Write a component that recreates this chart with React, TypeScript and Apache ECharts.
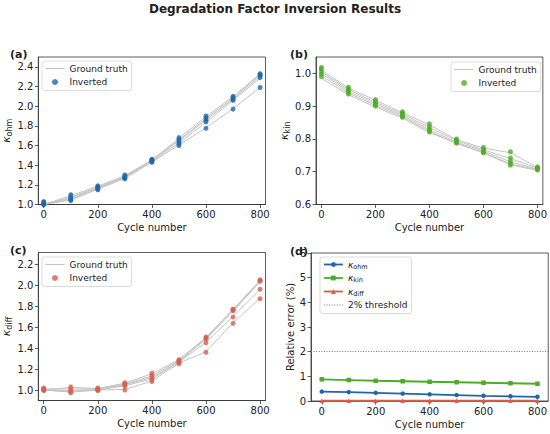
import { useEffect, useRef } from 'react';
import * as echarts from 'echarts';

const CYCLES = [0, 100, 200, 300, 400, 500, 600, 700, 800];
const X_TICKS = [0, 200, 400, 600, 800];

const GT_OHM = [
  [1.0, 1.045, 1.155, 1.265, 1.43, 1.605, 1.78, 1.975, 2.19],
  [1.0, 1.055, 1.16, 1.275, 1.44, 1.625, 1.835, 2.06, 2.285],
  [1.0, 1.065, 1.17, 1.28, 1.45, 1.645, 1.86, 2.07, 2.305],
  [1.0, 1.075, 1.175, 1.285, 1.455, 1.655, 1.875, 2.085, 2.32],
  [1.0, 1.09, 1.185, 1.295, 1.45, 1.675, 1.895, 2.095, 2.33],
];
const INV_OHM = [
  [1.0, 1.04, 1.15, 1.26, 1.43, 1.6, 1.775, 1.97, 2.19],
  [1.01, 1.05, 1.16, 1.27, 1.44, 1.62, 1.84, 2.06, 2.29],
  [1.02, 1.06, 1.17, 1.28, 1.45, 1.64, 1.86, 2.07, 2.31],
  [1.03, 1.08, 1.18, 1.29, 1.46, 1.66, 1.88, 2.09, 2.32],
  [1.0, 1.1, 1.19, 1.3, 1.45, 1.68, 1.9, 2.1, 2.33],
];
const GT_KIN = [
  [1.01, 0.955, 0.918, 0.88, 0.843, 0.798, 0.772, 0.758, 0.713],
  [1.005, 0.95, 0.912, 0.876, 0.835, 0.795, 0.767, 0.74, 0.711],
  [1.0, 0.945, 0.907, 0.872, 0.828, 0.79, 0.763, 0.73, 0.708],
  [0.993, 0.94, 0.902, 0.868, 0.823, 0.786, 0.759, 0.724, 0.706],
  [0.985, 0.935, 0.897, 0.864, 0.819, 0.788, 0.757, 0.721, 0.704],
];
const INV_KIN = [
  [1.018, 0.958, 0.92, 0.883, 0.846, 0.8, 0.774, 0.761, 0.715],
  [1.013, 0.953, 0.915, 0.879, 0.838, 0.797, 0.769, 0.742, 0.712],
  [1.005, 0.948, 0.91, 0.874, 0.83, 0.792, 0.764, 0.732, 0.709],
  [0.998, 0.943, 0.905, 0.869, 0.825, 0.787, 0.76, 0.725, 0.707],
  [0.99, 0.937, 0.9, 0.866, 0.821, 0.79, 0.758, 0.72, 0.705],
];
const GT_DIFF = [
  [1.0, 0.98, 1.0, 1.005, 1.085, 1.255, 1.365, 1.64, 1.875],
  [1.0, 0.985, 1.0, 1.04, 1.105, 1.265, 1.455, 1.7, 1.96],
  [1.0, 0.995, 1.005, 1.05, 1.12, 1.27, 1.485, 1.75, 2.03],
  [1.01, 1.01, 1.01, 1.055, 1.135, 1.28, 1.495, 1.76, 2.04],
  [1.0, 1.025, 1.015, 1.065, 1.155, 1.29, 1.5, 1.77, 2.045],
];
const INV_DIFF = [
  [1.0, 0.975, 0.995, 1.0, 1.08, 1.25, 1.36, 1.635, 1.87],
  [1.005, 0.98, 1.0, 1.04, 1.1, 1.265, 1.45, 1.695, 1.96],
  [1.01, 0.99, 1.005, 1.05, 1.12, 1.27, 1.49, 1.755, 2.035],
  [1.02, 1.01, 1.01, 1.06, 1.14, 1.28, 1.495, 1.765, 2.045],
  [0.995, 1.03, 1.02, 1.07, 1.16, 1.29, 1.505, 1.77, 2.05],
];
const ERR_OHM = [0.38, 0.36, 0.33, 0.3, 0.27, 0.24, 0.21, 0.19, 0.17];
const ERR_KIN = [0.88, 0.85, 0.82, 0.8, 0.78, 0.76, 0.74, 0.72, 0.7];
const ERR_DIFF = [0.01, 0.01, 0.01, 0.01, 0.01, 0.01, 0.01, 0.01, 0.01];
const THRESHOLD = 2;

const Y_TICKS_A = [1.0, 1.2, 1.4, 1.6, 1.8, 2.0, 2.2, 2.4];
const Y_TICKS_B = [0.6, 0.7, 0.8, 0.9, 1.0];
const Y_TICKS_C = [1.0, 1.2, 1.4, 1.6, 1.8, 2.0, 2.2];
const Y_TICKS_D = [0, 1, 2, 3, 4, 5, 6];

const BLUE = '#2166ac';
const GREEN = '#4dac26';
const RED = '#d6604d';
const GT_COLOR = '#c4c4c4';
const AX = '#333333';
const TEXT = '#222222';
const FONT = 'DejaVu Sans';

const kRichAxis = {
  k: { fontSize: 11, fontStyle: 'italic', lineHeight: 14, verticalAlign: 'middle', color: TEXT, fontFamily: FONT },
  s: { fontSize: 8, lineHeight: 8, verticalAlign: 'bottom', color: TEXT, fontFamily: FONT },
};
const kRichLegend = {
  k: { fontSize: 9, fontStyle: 'italic', lineHeight: 11, color: TEXT, fontFamily: FONT },
  s: { fontSize: 6.5, lineHeight: 7, verticalAlign: 'bottom', color: TEXT, fontFamily: FONT },
};

function xAxisFor(gridIndex: number, min: number, max: number) {
  return {
    type: 'value', gridIndex, min, max,
    axisLine: { show: true, onZero: false, lineStyle: { color: AX, width: 0.8 } },
    axisTick: { show: true, length: 3.5, lineStyle: { color: AX, width: 0.8 }, customValues: X_TICKS },
    axisLabel: { color: TEXT, fontSize: 10, margin: 5, fontFamily: FONT, customValues: X_TICKS, formatter: (v: number) => String(v) },
    splitLine: { show: false },
    name: 'Cycle number', nameLocation: 'middle', nameGap: 18,
    nameTextStyle: { fontSize: 10, color: TEXT, fontFamily: FONT },
  };
}

function yAxisFor(gridIndex: number, min: number, max: number, ticks: number[], name: string, nameGap: number, digits: number) {
  return {
    type: 'value', gridIndex, min, max,
    axisLine: { show: true, onZero: false, lineStyle: { color: AX, width: 0.8 } },
    axisTick: { show: true, length: 3.5, lineStyle: { color: AX, width: 0.8 }, customValues: ticks },
    axisLabel: { color: TEXT, fontSize: 10, margin: 5, fontFamily: FONT, customValues: ticks, formatter: (v: number) => v.toFixed(digits) },
    splitLine: { show: false },
    name, nameLocation: 'middle', nameGap, nameRotate: 90,
    nameTextStyle: { fontSize: 10, color: TEXT, fontFamily: FONT, rich: kRichAxis },
  };
}

function gtSeries(runs: number[][], idx: number) {
  return runs.map((run) => ({
    type: 'line', name: 'Ground truth', xAxisIndex: idx, yAxisIndex: idx,
    data: CYCLES.map((c, i) => [c, run[i]]),
    symbol: 'none', silent: true, z: 2,
    lineStyle: { color: GT_COLOR, width: 1 }, itemStyle: { color: GT_COLOR },
  }));
}

function invSeries(runs: number[][], idx: number, color: string) {
  const data: number[][] = [];
  runs.forEach((run) => CYCLES.forEach((c, i) => data.push([c, run[i]])));
  return {
    type: 'scatter', name: 'Inverted', xAxisIndex: idx, yAxisIndex: idx,
    data, symbol: 'circle', symbolSize: 5, silent: true, z: 3,
    itemStyle: { color, opacity: 0.8 },
  };
}

const legendBase = {
  orient: 'vertical', padding: [2, 4, 3, 3], itemWidth: 19, itemHeight: 6, itemGap: 2.5,
  borderColor: '#d3d3d3', borderWidth: 0.8, borderRadius: 2.5, backgroundColor: 'rgba(255,255,255,0.8)',
  selectedMode: false,
  textStyle: { fontSize: 9, lineHeight: 11, color: TEXT, fontFamily: FONT, rich: kRichLegend },
  formatter: (name: string) => (name.startsWith('κ_') ? `{k|κ}{s|${name.slice(2)}}` : name),
};

function gtInvLegend(pos: object, color: string) {
  return {
    ...legendBase, ...pos,
    data: [
      { name: 'Ground truth', itemStyle: { opacity: 0 }, lineStyle: { width: 1 } },
      { name: 'Inverted', itemStyle: { color, opacity: 0.8 } },
    ],
  };
}

function errSeries(name: string, values: number[], color: string, symbol: string) {
  return {
    type: 'line', name, xAxisIndex: 3, yAxisIndex: 3,
    data: CYCLES.map((c, i) => [c, values[i]]),
    symbol, symbolSize: 4.5, showSymbol: true, silent: true, z: 3,
    lineStyle: { color, width: 1.8 }, itemStyle: { color },
  };
}

const panelLabel = (text: string, left: number, top: number) => ({
  text, left, top, padding: 0,
  textStyle: { fontSize: 11, fontWeight: 'bold', color: TEXT, fontFamily: FONT },
});

const option = {
  animation: false,
  textStyle: { fontFamily: FONT },
  title: [
    { text: 'Degradation Factor Inversion Results', left: 'center', top: 3, padding: 0,
      textStyle: { fontSize: 12, fontWeight: 'bold', color: TEXT, fontFamily: FONT } },
    panelLabel('(a)', 10, 48.5),
    panelLabel('(b)', 290, 48.5),
    panelLabel('(c)', 10, 245),
    panelLabel('(d)', 290, 246),
  ],
  grid: [
    { left: 36.5, top: 57, width: 229, height: 147.5, show: true, borderColor: AX, borderWidth: 0.8 },
    { left: 316, top: 57, width: 228.3, height: 147.5, show: true, borderColor: AX, borderWidth: 0.8 },
    { left: 36.5, top: 252.5, width: 229, height: 148, show: true, borderColor: AX, borderWidth: 0.8 },
    { left: 311, top: 253, width: 238, height: 148, show: true, borderColor: AX, borderWidth: 0.8 },
  ],
  xAxis: [
    xAxisFor(0, -20, 820),
    xAxisFor(1, -20, 820),
    xAxisFor(2, -20, 820),
    xAxisFor(3, -40, 840),
  ],
  yAxis: [
    yAxisFor(0, 1.0, 2.5, Y_TICKS_A, '{k|κ}{s|ohm}', 21, 1),
    yAxisFor(1, 0.6, 1.05, Y_TICKS_B, '{k|κ}{s|kin}', 22, 1),
    yAxisFor(2, 0.9, 2.31, Y_TICKS_C, '{k|κ}{s|diff}', 22, 1),
    yAxisFor(3, 0, 6, Y_TICKS_D, 'Relative error (%)', 14, 0),
  ],
  legend: [
    gtInvLegend({ left: 42, top: 61 }, BLUE),
    gtInvLegend({ right: 9.3, top: 62 }, GREEN),
    gtInvLegend({ left: 42, top: 257 }, RED),
    {
      ...legendBase, left: 320, top: 257,
      data: [
        { name: 'κ_ohm', lineStyle: { width: 1.8 } },
        { name: 'κ_kin', lineStyle: { width: 1.8 } },
        { name: 'κ_diff', lineStyle: { width: 1.8 } },
        { name: '2% threshold', itemStyle: { opacity: 0 }, lineStyle: { width: 1 } },
      ],
    },
  ],
  series: [
    ...gtSeries(GT_OHM, 0),
    invSeries(INV_OHM, 0, BLUE),
    ...gtSeries(GT_KIN, 1),
    invSeries(INV_KIN, 1, GREEN),
    ...gtSeries(GT_DIFF, 2),
    invSeries(INV_DIFF, 2, RED),
    errSeries('κ_ohm', ERR_OHM, BLUE, 'circle'),
    errSeries('κ_kin', ERR_KIN, GREEN, 'rect'),
    errSeries('κ_diff', ERR_DIFF, RED, 'triangle'),
    {
      type: 'line', name: '2% threshold', xAxisIndex: 3, yAxisIndex: 3, data: [],
      symbol: 'none', silent: true,
      lineStyle: { color: '#777777', width: 1, type: [1, 1.6] }, itemStyle: { color: '#777777' },
      markLine: {
        silent: true, symbol: ['none', 'none'], label: { show: false },
        lineStyle: { color: '#777777', width: 1, type: [1, 1.6] },
        data: [{ yAxis: THRESHOLD }],
      },
    },
  ],
};

export default function App() {
  const ref = useRef<HTMLDivElement>(null);
  useEffect(() => {
    document.body.style.margin = '0';
    const chart = echarts.init(ref.current!, null, { renderer: 'svg' });
    chart.setOption(option as any);
    return () => chart.dispose();
  }, []);
  return <div ref={ref} style={{ width: 550, height: 434 }} />;
}
